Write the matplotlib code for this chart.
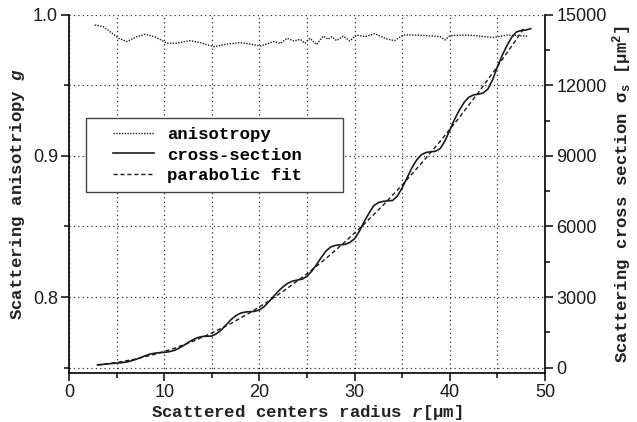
import numpy as np
import matplotlib
matplotlib.use("Agg")
import matplotlib.pyplot as plt
from matplotlib.patches import Rectangle
from matplotlib.ticker import MultipleLocator

# anisotropy g(r)
aniso_r = [2.7, 3.6, 4.3, 5.2, 6.1, 7.1, 8.0, 9.0, 10.3, 11.3, 12.7, 13.8, 15.2, 16.6,
           18.0, 19.0, 20.1, 21.0, 21.5, 22.2, 22.9, 23.6, 24.3, 24.8, 25.3, 26.0, 26.7,
           27.2, 27.6, 28.1, 28.8, 29.5, 30.2, 31.1, 32.1, 33.4, 34.2, 35.1, 36.3, 37.6,
           39.0, 39.5, 40.0, 41.8, 43.2, 44.6, 46.0, 47.4, 48.2]
aniso_g = [0.9929, 0.9917, 0.9882, 0.9835, 0.9811, 0.9846, 0.9863, 0.9846, 0.9800, 0.9800,
           0.9818, 0.9804, 0.9775, 0.9794, 0.9804, 0.9794, 0.9780, 0.9800, 0.9812, 0.9798,
           0.9835, 0.9816, 0.9827, 0.9800, 0.9835, 0.9790, 0.9850, 0.9828, 0.9846, 0.9818,
           0.9850, 0.9816, 0.9858, 0.9846, 0.9868, 0.9830, 0.9818, 0.9858, 0.9858, 0.9853,
           0.9846, 0.9823, 0.9853, 0.9858, 0.9850, 0.9840, 0.9858, 0.9853, 0.9850]

# scattering cross-section [um^2]
cs_r = [3.0, 3.5, 4.0, 4.5, 5.0, 5.5, 6.0, 6.5, 7.0, 7.5, 8.0, 8.5, 9.0, 9.5, 10.0, 10.5,
        11.0, 11.5, 12.0, 12.5, 13.0, 13.5, 14.0, 14.5, 15.0, 15.5, 16.0, 16.5, 17.0, 17.5,
        18.0, 18.5, 19.0, 19.5, 20.0, 20.5, 21.0, 21.5, 22.0, 22.5, 23.0, 23.5, 24.0, 24.5,
        25.0, 25.5, 26.0, 26.5, 27.0, 27.5, 28.0, 28.5, 29.0, 29.5, 30.0, 30.5, 31.0, 31.5,
        32.0, 32.5, 33.0, 33.5, 34.0, 34.5, 35.0, 35.5, 36.0, 36.5, 37.0, 37.5, 38.0, 38.5,
        39.0, 39.5, 40.0, 40.5, 41.0, 41.5, 42.0, 42.5, 43.0, 43.5, 44.0, 44.5, 45.0, 45.5,
        46.0, 46.5, 47.0, 47.5, 48.0, 48.5]
cs_val = [110, 130, 150, 170, 190, 205, 230, 280, 340, 420, 500, 570, 610, 630, 645, 670,
          720, 810, 930, 1060, 1180, 1270, 1320, 1330, 1340, 1440, 1600, 1810, 2030, 2200,
          2310, 2360, 2375, 2390, 2450, 2590, 2800, 3030, 3250, 3440, 3590, 3680, 3720, 3760,
          3880, 4100, 4380, 4680, 4960, 5130, 5200, 5220, 5240, 5320, 5480, 5800, 6200, 6560,
          6880, 7020, 7070, 7090, 7110, 7300, 7650, 8060, 8480, 8820, 9050, 9150, 9180, 9200,
          9320, 9650, 10100, 10560, 10950, 11280, 11500, 11600, 11630, 11680, 11850, 12250,
          12800, 13280, 13700, 14050, 14280, 14340, 14360, 14420]

# parabolic fit
fit_r = [3, 5, 7, 9, 11, 13, 15, 17, 19, 21, 23, 25, 27, 29, 31, 33, 35, 37, 39, 41, 43,
         45, 47, 47.8]
fit_val = [110, 210, 360, 560, 810, 1110, 1470, 1870, 2330, 2830, 3390, 3990, 4640, 5350,
           6100, 6910, 7770, 8680, 9630, 10640, 11700, 12810, 13970, 14450]

plt.rcParams.update({
    "font.family": "Liberation Mono",
    "font.weight": "bold",
    "axes.labelweight": "bold",
    "mathtext.fontset": "custom",
    "mathtext.rm": "Liberation Mono:bold",
    "mathtext.it": "Liberation Mono:italic:bold",
    "axes.linewidth": 1.2,
})

TICK_FONT = {"family": "Liberation Sans", "weight": "normal", "size": 13}
INK = "#1a1a1a"
LABEL_GRAY = "#222222"

fig = plt.figure(figsize=(6.37, 4.22), dpi=100)
ax = fig.add_axes([0.1083, 0.1161, 0.7473, 0.8484])
ax2 = ax.twinx()

l1, = ax.plot(aniso_r, aniso_g, color=INK, lw=1.0, ls=(0, (1, 1)), label="anisotropy")
l2, = ax2.plot(cs_r, cs_val, color=INK, lw=1.2, ls="-", label="cross-section")
l3, = ax2.plot(fit_r, fit_val, color=INK, lw=1.0, ls=(0, (3, 2)), label="parabolic fit")

ax.set_xlim(0, 50)
ax.set_ylim(0.7461, 1.0)
ax2.set_ylim(-234, 15000)

ax.xaxis.set_major_locator(MultipleLocator(10))
ax.xaxis.set_minor_locator(MultipleLocator(5))
ax.yaxis.set_major_locator(MultipleLocator(0.1))
ax.yaxis.set_minor_locator(MultipleLocator(0.05))
ax2.yaxis.set_major_locator(MultipleLocator(3000))
ax2.yaxis.set_minor_locator(MultipleLocator(1500))

ax.grid(True, which="both", ls=(0, (1, 2.5)), color="#333333", lw=0.9)
ax.set_axisbelow(True)

for spine in ("top", "right"):
    ax.spines[spine].set_visible(False)
for spine in ("top", "left", "bottom"):
    ax2.spines[spine].set_visible(False)

for a in (ax, ax2):
    a.tick_params(which="major", direction="out", length=6, width=1.2, colors=INK, pad=2)
    a.tick_params(which="minor", direction="out", length=3.5, width=1.2, colors=INK)

ax.set_xticks([0, 10, 20, 30, 40, 50])
ax.set_xticklabels(["0", "10", "20", "30", "40", "50"], fontdict=TICK_FONT)
ax.set_yticks([0.8, 0.9, 1.0])
ax.set_yticklabels(["0.8", "0.9", "1.0"], fontdict=TICK_FONT)
ax2.set_yticks([0, 3000, 6000, 9000, 12000, 15000])
ax2.set_yticklabels(["0", "3000", "6000", "9000", "12000", "15000"], fontdict=TICK_FONT)

ax.set_xlabel(r"Scattered centers radius $\mathit{r}$[μm]", fontsize=12.5,
              fontweight="bold", color=LABEL_GRAY, labelpad=1)
ax.set_ylabel(r"Scattering anisotriopy $\mathit{g}$", fontsize=12.5,
              fontweight="bold", color=LABEL_GRAY, labelpad=4)
ax2.set_ylabel(r"Scattering cross section σ$_\mathregular{s}$ [μm$^\mathregular{2}$]",
               fontsize=12.5, fontweight="bold", color=LABEL_GRAY, labelpad=3)

# legend box: wider than its content, as in the original
box = Rectangle((0.0357, 0.5056), 0.5399, 0.2067, transform=ax2.transAxes,
                facecolor="white", edgecolor="#444444", lw=1.0, zorder=4)
ax2.add_patch(box)
leg = ax2.legend(handles=[l1, l2, l3], loc="upper left", bbox_to_anchor=(0.092, 0.688),
                 borderaxespad=0, frameon=False,
                 prop={"family": "Liberation Mono", "weight": "bold", "size": 12.5},
                 handlelength=2.35, handletextpad=0.8, borderpad=0.0, labelspacing=0.32)
leg.set_zorder(5)

fig.savefig("out.png", dpi=100)
